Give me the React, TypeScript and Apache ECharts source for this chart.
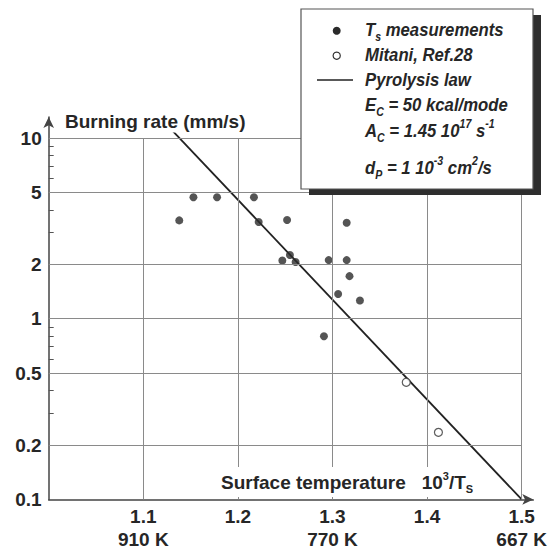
import React, { useEffect, useRef } from 'react';
import * as echarts from 'echarts';

// ---- Data ----
const xTickValues = [1.1, 1.2, 1.3, 1.4, 1.5];
const kelvinLabels: Record<string, string> = { '1.1': '910 K', '1.3': '770 K', '1.5': '667 K' };
const yTickValues = [0.1, 0.2, 0.5, 1, 2, 5, 10];
const yMinorTicks = [0.3, 0.4, 0.6, 0.7, 0.8, 0.9, 3, 4, 6, 7, 8, 9];
const gridXValues = [1.1, 1.2, 1.3, 1.4, 1.5];
const gridYValues = [0.2, 0.5, 1, 2, 5, 10];

const tsInvT = [1.138, 1.153, 1.178, 1.217, 1.222, 1.252, 1.315, 1.255, 1.247, 1.261, 1.296, 1.315, 1.318, 1.306, 1.329, 1.291];
const tsRate = [3.5, 4.7, 4.7, 4.7, 3.43, 3.52, 3.4, 2.25, 2.1, 2.06, 2.11, 2.11, 1.72, 1.37, 1.26, 0.8];
const mitaniInvT = [1.378, 1.412];
const mitaniRate = [0.445, 0.235];
const lawInvT = [1.13, 1.5];
const lawRate = [11.1, 0.1];

const X_MIN = 1.0;
const X_MAX = 1.5123;
const Y_MIN = 0.1;
const Y_MAX = 13.07;

const SANS = "'Liberation Sans', Arial, Helvetica, sans-serif";
const INK = '#262626';

const legMain = { fontSize: 19, fontWeight: 'bold', fontStyle: 'italic', fontFamily: SANS, fill: INK, color: INK, lineHeight: 26, verticalAlign: 'middle' };
const legSub = { fontSize: 12, fontWeight: 'bold', fontStyle: 'italic', fontFamily: SANS, fill: INK, color: INK, lineHeight: 12, verticalAlign: 'bottom' };
const legSup = { fontSize: 12, fontWeight: 'bold', fontStyle: 'italic', fontFamily: SANS, fill: INK, color: INK, lineHeight: 12, verticalAlign: 'top' };
const legRich = { m: legMain, sb: legSub, sp: legSup };

function legText(text: string, y: number) {
  return {
    type: 'text',
    z: 110,
    x: 365,
    y,
    scaleX: 0.88,
    style: { text, x: 0, y: 0, verticalAlign: 'middle', align: 'left', rich: legRich, fill: INK },
  };
}

export default function App() {
  const ref = useRef<HTMLDivElement>(null);

  useEffect(() => {
    if (!ref.current) return;
    const chart = echarts.init(ref.current, undefined, { renderer: 'svg' });

    const option: any = {
      animation: false,
      backgroundColor: '#ffffff',
      grid: { left: 48.7, top: 117, width: 484.6, height: 382.4, containLabel: false },
      xAxis: {
        type: 'value',
        min: X_MIN,
        max: X_MAX,
        axisLine: {
          show: true,
          onZero: false,
          lineStyle: { color: '#444', width: 1.5 },
          symbol: ['none', 'arrow'],
          symbolSize: [8, 11],
        },
        axisTick: { show: false },
        splitLine: { show: false },
        axisLabel: {
          customValues: xTickValues,
          formatter: (v: number) => {
            const k = v.toFixed(1);
            return kelvinLabels[k] ? `${k}\n${kelvinLabels[k]}` : k;
          },
          color: INK,
          fontSize: 19,
          fontWeight: 'bold',
          fontFamily: SANS,
          lineHeight: 23,
          margin: 6,
        },
      },
      yAxis: {
        type: 'log',
        logBase: 10,
        min: Y_MIN,
        max: Y_MAX,
        axisLine: {
          show: true,
          onZero: false,
          lineStyle: { color: '#444', width: 1.5 },
          symbol: ['none', 'arrow'],
          symbolSize: [8, 11],
        },
        axisTick: {
          show: true,
          customValues: yMinorTicks,
          inside: true,
          length: 5,
          lineStyle: { color: '#555', width: 1 },
        },
        minorTick: { show: false },
        splitLine: { show: false },
        axisLabel: {
          customValues: yTickValues,
          formatter: (v: number) => String(Number(Number(v).toPrecision(6))),
          color: INK,
          fontSize: 19,
          fontWeight: 'bold',
          fontFamily: SANS,
          margin: 7,
        },
      },
      series: [
        {
          type: 'line',
          name: 'grid',
          data: [],
          z: 1,
          silent: true,
          markLine: {
            silent: true,
            symbol: ['none', 'none'],
            label: { show: false },
            emphasis: { disabled: true },
            lineStyle: { color: '#8a8a8a', width: 1, type: 'solid' },
            data: [
              ...gridYValues.map((v) => [{ coord: [X_MIN, v] }, { coord: [1.5, v] }]),
              ...gridXValues.map((v) => [{ coord: [v, Y_MIN] }, { coord: [v, 10] }]),
            ],
          },
        },
        {
          type: 'line',
          name: 'Pyrolysis law',
          data: lawInvT.map((x, i) => [x, lawRate[i]]),
          symbol: 'none',
          clip: false,
          lineStyle: { color: '#222', width: 1.8 },
          z: 3,
        },
        {
          type: 'scatter',
          name: 'Ts measurements',
          data: tsInvT.map((x, i) => [x, tsRate[i]]),
          symbol: 'circle',
          symbolSize: 8,
          itemStyle: { color: '#2a2a2a' },
          z: 4,
        },
        {
          type: 'scatter',
          name: 'Mitani, Ref.28',
          data: mitaniInvT.map((x, i) => [x, mitaniRate[i]]),
          symbol: 'circle',
          symbolSize: 8,
          itemStyle: { color: '#ffffff', borderColor: '#333', borderWidth: 1.2 },
          z: 4,
        },
      ],
      graphic: {
        elements: [
          {
            type: 'text',
            z: 100,
            style: {
              text: 'Burning rate (mm/s)',
              x: 62,
              y: 121,
              verticalAlign: 'middle',
              align: 'left',
              fontSize: 19,
              fontWeight: 'bold',
              fontFamily: SANS,
              fill: INK,
              backgroundColor: '#ffffff',
              padding: [2, 3, 2, 3],
            },
          },
          {
            type: 'text',
            z: 100,
            style: {
              text: '{b|Surface temperature   10}{sp|3}{b|/T}{sb|S}',
              x: 217,
              y: 482,
              verticalAlign: 'middle',
              align: 'left',
              backgroundColor: '#ffffff',
              padding: [3, 4, 3, 4],
              rich: {
                b: { fontSize: 19, fontWeight: 'bold', fontFamily: SANS, fill: INK, color: INK, lineHeight: 24, verticalAlign: 'middle' },
                sp: { fontSize: 11, fontWeight: 'bold', fontFamily: SANS, fill: INK, color: INK, lineHeight: 11, verticalAlign: 'top' },
                sb: { fontSize: 11, fontWeight: 'bold', fontFamily: SANS, fill: INK, color: INK, lineHeight: 11, verticalAlign: 'bottom' },
              },
            },
          },
          // legend box shadow and box
          { type: 'rect', z: 100, shape: { x: 309, y: 15, width: 232, height: 180 }, style: { fill: '#2e2e2e' } },
          { type: 'rect', z: 101, shape: { x: 301, y: 9, width: 232, height: 180 }, style: { fill: '#ffffff', stroke: '#555', lineWidth: 1.2 } },
          { type: 'circle', z: 110, shape: { cx: 336.7, cy: 30.7, r: 4 }, style: { fill: '#2a2a2a' } },
          { type: 'circle', z: 110, shape: { cx: 336.7, cy: 55.7, r: 3.6 }, style: { fill: '#ffffff', stroke: '#333', lineWidth: 1.2 } },
          { type: 'line', z: 110, shape: { x1: 317, y1: 80, x2: 353, y2: 80 }, style: { stroke: '#222', lineWidth: 1.6 } },
          legText('{m|T}{sb|s}{m| measurements}', 30),
          legText('{m|Mitani, Ref.28}', 55),
          legText('{m|Pyrolysis law}', 80),
          legText('{m|E}{sb|C}{m| = 50 kcal/mode}', 105),
          legText('{m|A}{sb|C}{m| = 1.45 10}{sp|17}{m| s}{sp|-1}', 131),
          legText('{m|d}{sb|P}{m| = 1 10}{sp|-3}{m| cm}{sp|2}{m|/s}', 168),
        ],
      },
    };

    chart.setOption(option);
    return () => chart.dispose();
  }, []);

  return <div ref={ref} style={{ position: 'absolute', left: 0, top: 0, width: 554, height: 552 }} />;
}
